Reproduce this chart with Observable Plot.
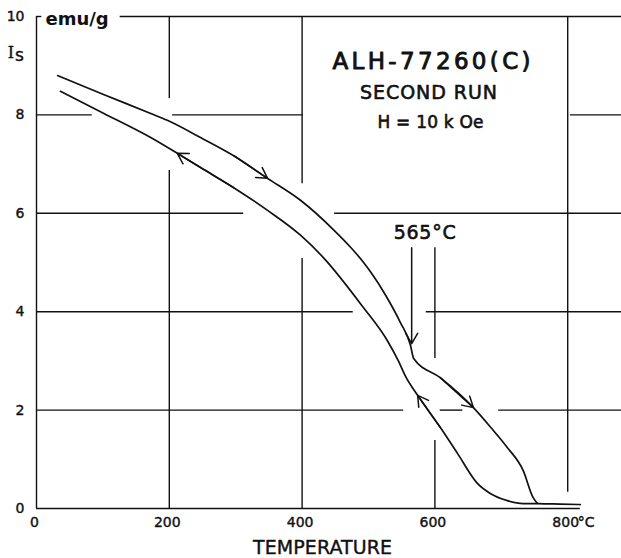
<!DOCTYPE html>
<html><head><meta charset="utf-8">
<script src="https://cdn.jsdelivr.net/npm/d3@7"></script>
<script src="https://cdn.jsdelivr.net/npm/@observablehq/plot@0.6"></script>
<style>body{margin:0;background:#fff}</style>
</head><body><div id="chart"></div>
<script>
// Heating run (upper branch), temperature °C and Is (emu/g)
const heatT = [32, 100, 172, 197, 247, 297, 348, 398, 447, 473, 492, 503, 526, 548, 563, 568, 608, 658, 684, 709, 733, 748, 756, 789, 819];
const heatI = [8.80, 8.42, 8.03, 7.89, 7.54, 7.17, 6.71, 6.26, 5.67, 5.31, 5.01, 4.81, 4.33, 3.78, 3.33, 3.05, 2.66, 2.05, 1.65, 1.24, 0.77, 0.22, 0.10, 0.09, 0.08];
// Cooling run (lower branch)
const coolT = [36, 100, 172, 212, 247, 297, 348, 398, 432, 492, 528, 545, 556, 574, 608, 634, 664, 684, 709, 733, 755];
const coolI = [8.48, 8.04, 7.54, 7.22, 6.93, 6.52, 6.06, 5.55, 5.10, 4.09, 3.42, 3.00, 2.68, 2.30, 1.65, 1.12, 0.51, 0.30, 0.16, 0.10, 0.10];
// Direction arrows (on the curves) and the 565°C marker
const arrowT1 = [297, 608, 297, 608, 565];
const arrowI1 = [7.17, 2.66, 6.52, 1.65, 5.30];
const arrowT2 = [348, 658, 212, 574, 565];
const arrowI2 = [6.71, 2.05, 7.22, 2.30, 3.35];
// Ticks
const xTicks = [0, 200, 400, 600, 800];
const yTicks = [0, 2, 4, 6, 8, 10];
// Broken grid lines of the original drawing
const hGridY  = [10, 10, 8, 8, 8, 6, 6, 4, 4, 2, 2, 2, 0];
const hGridX1 = [0, 126, 0, 205, 804, 0, 449, 0, 587, 0, 608, 696, 0];
const hGridX2 = [8, 881, 84, 402, 881, 312, 881, 477, 881, 553, 642, 881, 819];
const vGridX  = [0, 200, 200, 400, 400, 600, 600, 800];
const vGridY1 = [0, 8.33, 0, 6.6, 0, 3.05, 0, 0.33];
const vGridY2 = [10, 10, 6.87, 10, 5.08, 5.3, 1.38, 10];
// Texts
const titleLines = ["ALH-77260(C)", "SECOND RUN", "H = 10 k Oe"];
const curieLabel = "565°C";
const curieT = 565;
const xLabel = "TEMPERATURE";
const xUnit = "°C";
const unitLabel = "emu/g";

const heating = heatT.map((t, i) => ({t, v: heatI[i]}));
const cooling = coolT.map((t, i) => ({t, v: coolI[i]}));
const arrows = arrowT1.map((t, i) => ({x1: t, y1: arrowI1[i], x2: arrowT2[i], y2: arrowI2[i]}));
const hGrid = hGridY.map((y, i) => ({y, x1: hGridX1[i], x2: hGridX2[i]}));
const vGrid = vGridX.map((x, i) => ({x, y1: vGridY1[i], y2: vGridY2[i]}));

const ink = "#111";
const F = "DejaVu Sans";
const txt = {fill: ink, stroke: ink, strokeWidth: 0.4};

const chart = Plot.plot({
  width: 621, height: 558,
  marginLeft: 36, marginRight: 0, marginTop: 16, marginBottom: 50,
  x: {domain: [0, 881], axis: null},
  y: {domain: [0, 10], axis: null},
  style: {fontFamily: F, background: "#fff", color: ink},
  marks: [
    Plot.ruleY(hGrid, {y: "y", x1: "x1", x2: "x2", stroke: ink, strokeWidth: 1.4}),
    Plot.ruleX(vGrid, {x: "x", y1: "y1", y2: "y2", stroke: ink, strokeWidth: 1.4}),
    Plot.line(heating, {x: "t", y: "v", stroke: ink, strokeWidth: 1.7, curve: "monotone-x"}),
    Plot.line(cooling, {x: "t", y: "v", stroke: ink, strokeWidth: 1.7, curve: "monotone-x"}),
    Plot.arrow(arrows, {x1: "x1", y1: "y1", x2: "x2", y2: "y2", stroke: ink, strokeWidth: 1.5, headLength: 12, headAngle: 60}),
    // y tick labels
    Plot.text(yTicks, {x: 0, y: d => d, text: d => String(d), textAnchor: "end", dx: -12, fontSize: 14, ...txt}),
    // x tick labels
    Plot.text(xTicks, {x: d => d, y: 0, text: d => String(d), dx: -2, dy: 14, fontSize: 14, ...txt}),
    Plot.text([xUnit], {x: 800, y: 0, text: d => d, dx: 10, dy: 14, textAnchor: "start", fontSize: 14, ...txt}),
    // axis title
    Plot.text([xLabel], {frameAnchor: "bottom-left", text: d => d, textAnchor: "middle", lineAnchor: "middle", dx: 322 - 36, dy: 39, fontSize: 19, ...txt}),
    // unit label & I_s
    Plot.text([unitLabel], {frameAnchor: "top-left", text: d => d, textAnchor: "start", lineAnchor: "middle", dx: 9, dy: 3, fontSize: 18, fontWeight: "bold", fill: ink}),
    Plot.text(["I"], {frameAnchor: "top-left", text: d => d, textAnchor: "middle", lineAnchor: "middle", dx: -25.5, dy: 36.5, fontSize: 16, fontFamily: "DejaVu Serif", ...txt}),
    Plot.text(["s"], {frameAnchor: "top-left", text: d => d, textAnchor: "middle", lineAnchor: "middle", dx: -17, dy: 39, fontSize: 17, ...txt}),
    // title block
    Plot.text([titleLines[0]], {frameAnchor: "top-left", text: d => d, textAnchor: "middle", lineAnchor: "middle", dx: 395, dy: 45, fontSize: 23, fill: ink, stroke: ink, strokeWidth: 0.9}),
    Plot.text([titleLines[1]], {frameAnchor: "top-left", text: d => d, textAnchor: "middle", lineAnchor: "middle", dx: 392, dy: 76, fontSize: 19, fill: ink, stroke: ink, strokeWidth: 0.6}),
    Plot.text([titleLines[2]], {frameAnchor: "top-left", text: d => d, textAnchor: "middle", lineAnchor: "middle", dx: 394, dy: 106, fontSize: 17, fill: ink, stroke: ink, strokeWidth: 0.6}),
    // Curie point label
    Plot.text([curieLabel], {x: curieT, y: 10, text: d => d, dx: 13, dy: 216, fontSize: 19, fill: ink, stroke: ink, strokeWidth: 0.6})
  ]
});

// match the wide letter spacing of the original lettering
const widths = {"ALH-77260(C)": 198, "SECOND RUN": 137, "H = 10 k Oe": 106, "565°C": 62, "TEMPERATURE": 139};
d3.select(chart).selectAll("text").each(function() {
  const w = widths[this.textContent];
  if (w) { this.setAttribute("textLength", w); this.setAttribute("lengthAdjust", "spacing"); }
});
document.getElementById("chart").appendChild(chart);
</script></body></html>
